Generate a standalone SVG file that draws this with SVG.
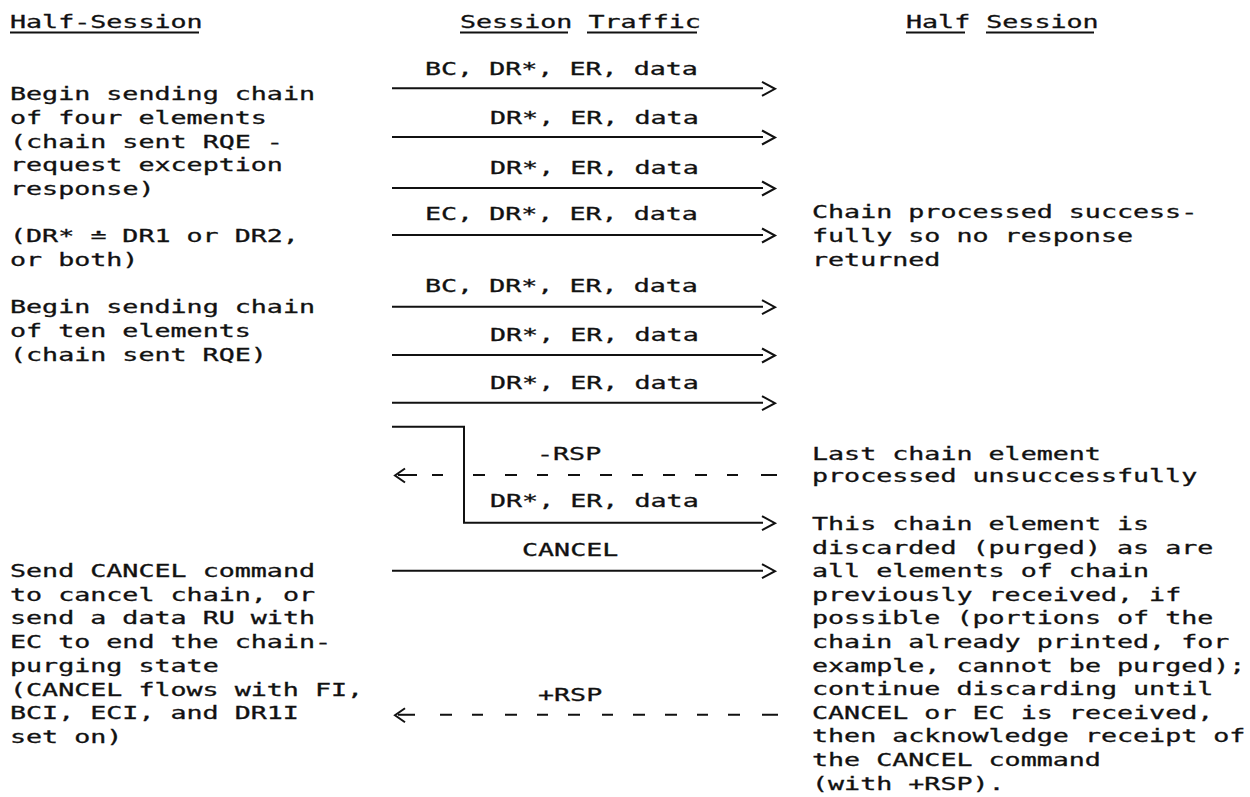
<svg xmlns="http://www.w3.org/2000/svg" width="1250" height="797" viewBox="0 0 1250 797">
  <style>
    /* printer-style monospace: 16.05px character pitch, glyphs widened to fill each cell */
    text { font-family: "DejaVu Sans Mono", "Liberation Mono", monospace; font-size: 17px; fill: #111111; stroke: #111111; stroke-width: 0.3px; }
    .ln { stroke: #111111; stroke-width: 2; fill: none; }
  </style>
  <defs>
    <!-- typed ">" and "<" heads, drawn at the line level -->
    <path id="head-r" class="ln" d="M-13,-6.5 L0,0.5 L-13,7.5"/>
    <path id="head-l" class="ln" d="M10,-6.5 L0,0.5 L10,7.5"/>
  </defs>
  <rect width="1250" height="797" fill="#ffffff"/>

  <!-- column headings -->
  <g id="hdr-left">
    <text x="10" y="28" textLength="192.6" lengthAdjust="spacingAndGlyphs">Half-Session</text>
    <line class="ln" x1="10" y1="32.5" x2="199" y2="32.5"/>
  </g>
  <g id="hdr-mid">
    <text x="460" y="28" textLength="240.8" lengthAdjust="spacingAndGlyphs">Session Traffic</text>
    <line class="ln" x1="460" y1="32.5" x2="568" y2="32.5"/>
    <line class="ln" x1="587" y1="32.5" x2="697" y2="32.5"/>
  </g>
  <g id="hdr-right">
    <text x="906" y="28" textLength="192.6" lengthAdjust="spacingAndGlyphs">Half Session</text>
    <line class="ln" x1="906" y1="32.5" x2="965" y2="32.5"/>
    <line class="ln" x1="986" y1="32.5" x2="1094" y2="32.5"/>
  </g>

  <!-- left half-session notes -->
  <g id="note-chain4">
    <text x="10" y="100" textLength="305" lengthAdjust="spacingAndGlyphs">Begin sending chain</text>
    <text x="10" y="124" textLength="256.8" lengthAdjust="spacingAndGlyphs">of four elements</text>
    <text x="10" y="147.5" textLength="272.9" lengthAdjust="spacingAndGlyphs">(chain sent RQE -</text>
    <text x="10" y="171" textLength="272.9" lengthAdjust="spacingAndGlyphs">request exception</text>
    <text x="10" y="194.5" textLength="144.5" lengthAdjust="spacingAndGlyphs">response)</text>
  </g>
  <g id="note-drstar">
    <text x="10" y="242" textLength="288.9" lengthAdjust="spacingAndGlyphs">(DR* ≐ DR1 or DR2,</text>
    <text x="10" y="266" textLength="128.4" lengthAdjust="spacingAndGlyphs">or both)</text>
  </g>
  <g id="note-chain10">
    <text x="10" y="313" textLength="305" lengthAdjust="spacingAndGlyphs">Begin sending chain</text>
    <text x="10" y="337" textLength="240.8" lengthAdjust="spacingAndGlyphs">of ten elements</text>
    <text x="10" y="361" textLength="256.8" lengthAdjust="spacingAndGlyphs">(chain sent RQE)</text>
  </g>
  <g id="note-cancel">
    <text x="10" y="577" textLength="305" lengthAdjust="spacingAndGlyphs">Send CANCEL command</text>
    <text x="10" y="600.7" textLength="305" lengthAdjust="spacingAndGlyphs">to cancel chain, or</text>
    <text x="10" y="624.4" textLength="305" lengthAdjust="spacingAndGlyphs">send a data RU with</text>
    <text x="10" y="648.1" textLength="321" lengthAdjust="spacingAndGlyphs">EC to end the chain-</text>
    <text x="10" y="671.8" textLength="208.7" lengthAdjust="spacingAndGlyphs">purging state</text>
    <text x="10" y="695.5" textLength="353.1" lengthAdjust="spacingAndGlyphs">(CANCEL flows with FI,</text>
    <text x="10" y="719.2" textLength="288.9" lengthAdjust="spacingAndGlyphs">BCI, ECI, and DR1I</text>
    <text x="10" y="742.9" textLength="112.4" lengthAdjust="spacingAndGlyphs">set on)</text>
  </g>

  <!-- right half-session notes -->
  <g id="note-success">
    <text x="812" y="218" textLength="385.2" lengthAdjust="spacingAndGlyphs">Chain processed success-</text>
    <text x="812" y="242" textLength="321" lengthAdjust="spacingAndGlyphs">fully so no response</text>
    <text x="812" y="266" textLength="128.4" lengthAdjust="spacingAndGlyphs">returned</text>
  </g>
  <g id="note-fail">
    <text x="812" y="460" textLength="288.9" lengthAdjust="spacingAndGlyphs">Last chain element</text>
    <text x="812" y="482" textLength="385.2" lengthAdjust="spacingAndGlyphs">processed unsuccessfully</text>
  </g>
  <g id="note-purge">
    <text x="812" y="530" textLength="337.1" lengthAdjust="spacingAndGlyphs">This chain element is</text>
    <text x="812" y="553.6" textLength="401.3" lengthAdjust="spacingAndGlyphs">discarded (purged) as are</text>
    <text x="812" y="577.2" textLength="337.1" lengthAdjust="spacingAndGlyphs">all elements of chain</text>
    <text x="812" y="600.8" textLength="369.2" lengthAdjust="spacingAndGlyphs">previously received, if</text>
    <text x="812" y="624.4" textLength="401.3" lengthAdjust="spacingAndGlyphs">possible (portions of the</text>
    <text x="812" y="648" textLength="417.3" lengthAdjust="spacingAndGlyphs">chain already printed, for</text>
    <text x="812" y="671.6" textLength="433.4" lengthAdjust="spacingAndGlyphs">example, cannot be purged);</text>
    <text x="812" y="695.2" textLength="401.3" lengthAdjust="spacingAndGlyphs">continue discarding until</text>
    <text x="812" y="718.8" textLength="401.3" lengthAdjust="spacingAndGlyphs">CANCEL or EC is received,</text>
    <text x="812" y="742.4" textLength="433.4" lengthAdjust="spacingAndGlyphs">then acknowledge receipt of</text>
    <text x="812" y="766" textLength="288.9" lengthAdjust="spacingAndGlyphs">the CANCEL command</text>
    <text x="812" y="789.6" textLength="192.6" lengthAdjust="spacingAndGlyphs">(with +RSP).</text>
  </g>

  <!-- session traffic flows -->
  <g id="connectors">
    <g id="f1">
      <text x="425" y="75" textLength="272.9" lengthAdjust="spacingAndGlyphs">BC, DR*, ER, data</text>
      <line class="ln" x1="392" y1="88.3" x2="763" y2="88.3"/>
      <use href="#head-r" x="775" y="88.3"/>
    </g>
    <g id="f2">
      <text x="490" y="124" textLength="208.7" lengthAdjust="spacingAndGlyphs">DR*, ER, data</text>
      <line class="ln" x1="392" y1="137" x2="763" y2="137"/>
      <use href="#head-r" x="775" y="137"/>
    </g>
    <g id="f3">
      <text x="490" y="174" textLength="208.7" lengthAdjust="spacingAndGlyphs">DR*, ER, data</text>
      <line class="ln" x1="392" y1="188" x2="763" y2="188"/>
      <use href="#head-r" x="775" y="188"/>
    </g>
    <g id="f4">
      <text x="425" y="220" textLength="272.9" lengthAdjust="spacingAndGlyphs">EC, DR*, ER, data</text>
      <line class="ln" x1="392" y1="235" x2="763" y2="235"/>
      <use href="#head-r" x="775" y="235"/>
    </g>
    <g id="f5">
      <text x="425" y="292" textLength="272.9" lengthAdjust="spacingAndGlyphs">BC, DR*, ER, data</text>
      <line class="ln" x1="392" y1="306.7" x2="763" y2="306.7"/>
      <use href="#head-r" x="775" y="306.7"/>
    </g>
    <g id="f6">
      <text x="490" y="341" textLength="208.7" lengthAdjust="spacingAndGlyphs">DR*, ER, data</text>
      <line class="ln" x1="392" y1="355" x2="763" y2="355"/>
      <use href="#head-r" x="775" y="355"/>
    </g>
    <g id="f7">
      <text x="490" y="389" textLength="208.7" lengthAdjust="spacingAndGlyphs">DR*, ER, data</text>
      <line class="ln" x1="392" y1="402.7" x2="763" y2="402.7"/>
      <use href="#head-r" x="775" y="402.7"/>
    </g>
    <!-- last element sent, routed round the negative response -->
    <g id="f8">
      <path class="ln" d="M392,426.7 H464 V522.7 H763"/>
      <use href="#head-r" x="775" y="522.7"/>
      <text x="490" y="507" textLength="208.7" lengthAdjust="spacingAndGlyphs">DR*, ER, data</text>
    </g>
    <g id="r1">
      <text x="537" y="460" textLength="64.2" lengthAdjust="spacingAndGlyphs">-RSP</text>
      <use href="#head-l" x="395" y="475"/>
      <path class="ln" d="M398,475 H417 M432,475 H443 M473,475 H485 M505,475 H517 M537,475 H548 M568,475 H580 M600,475 H612 M632,475 H643 M663,475 H675 M695,475 H707 M727,475 H738 M761,475 H777"/>
    </g>
    <g id="f9">
      <text x="522" y="556" textLength="96.3" lengthAdjust="spacingAndGlyphs">CANCEL</text>
      <line class="ln" x1="392" y1="570.7" x2="763" y2="570.7"/>
      <use href="#head-r" x="775" y="570.7"/>
    </g>
    <g id="r2">
      <text x="538" y="701" textLength="64.2" lengthAdjust="spacingAndGlyphs">+RSP</text>
      <use href="#head-l" x="395" y="714.7"/>
      <path class="ln" d="M398,714.7 H415 M440,714.7 H452 M472,714.7 H483 M505,714.7 H517 M537,714.7 H548 M568,714.7 H580 M602,714.7 H613 M633,714.7 H645 M665,714.7 H677 M697,714.7 H708 M728,714.7 H740 M762,714.7 H778"/>
    </g>
  </g>
</svg>
